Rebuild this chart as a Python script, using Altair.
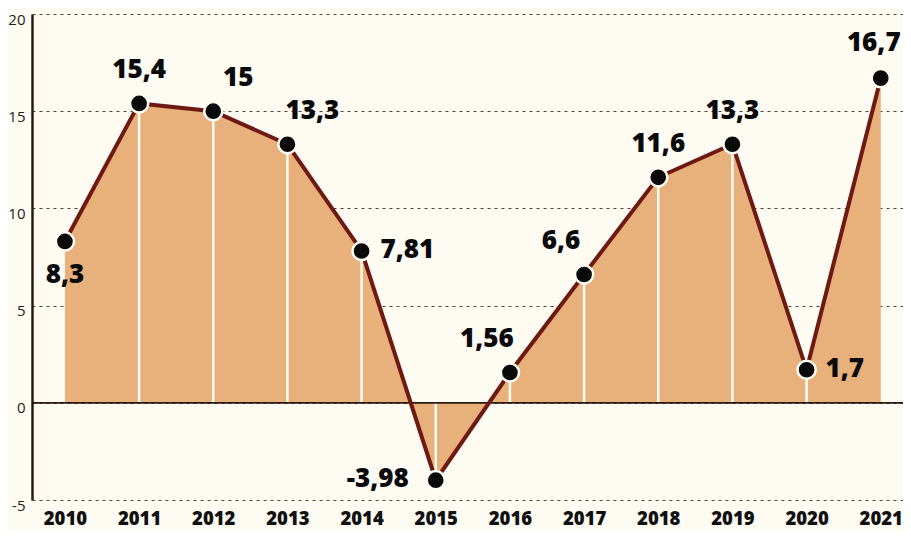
import altair as alt
import pandas as pd

years = [2010, 2011, 2012, 2013, 2014, 2015, 2016, 2017, 2018, 2019, 2020, 2021]
values = [8.3, 15.4, 15.0, 13.3, 7.81, -3.98, 1.56, 6.6, 11.6, 13.3, 1.7, 16.7]
labels = ["8,3", "15,4", "15", "13,3", "7,81", "-3,98", "1,56", "6,6", "11,6", "13,3", "1,7", "16,7"]
placement = ["below", "above", "above-right", "above-right", "right", "left",
             "above-left", "above-left", "above", "above", "right", "above-edge"]
y_ticks = [-5, 0, 5, 10, 15, 20]

df = pd.DataFrame({"year": years, "value": values, "label": labels, "place": placement})

W, H = 871, 486
FONT = "Open Sans"
BG = "#fdfbf2"

x = alt.X("year:Q", scale=alt.Scale(domain=[2009.556, 2021.3], nice=False, zero=False),
          axis=alt.Axis(values=years, format="d", title=None, grid=False, domain=False,
                        ticks=False, labelPadding=9, labelFontSize=18.5, labelFontWeight=800,
                        labelColor="#111111", labelFont=FONT, labelOverlap=False))
y = alt.Y("value:Q", scale=alt.Scale(domain=[-5, 20], nice=False, zero=False),
          axis=alt.Axis(values=y_ticks, title=None, grid=True, gridDash=[3, 4],
                        gridColor="#5a4030", gridWidth=1.1, domain=True, domainColor="#2a1a14",
                        domainWidth=2.5, ticks=False, labelPadding=7, labelFontSize=15,
                        labelColor="#222222", labelFont=FONT, labelBaseline="middle", labelOffset=5,
                        labelExpr="replace(datum.label, '\u2212', '-')"))

base = alt.Chart(df)

area = base.mark_area(color="#e8b07a", opacity=1, interpolate="linear").encode(
    x=x, y=y, y2=alt.datum(0))

rules = base.transform_filter("datum.year > 2010 && datum.year < 2021").mark_rule(
    color=BG, strokeWidth=2.5).encode(x="year:Q", y="value:Q", y2=alt.datum(0))

zero = alt.Chart(pd.DataFrame({"z": [0]})).mark_rule(color="#2a1a14", strokeWidth=1.8).encode(
    y="z:Q", x=alt.value(0), x2=alt.value(W))

line = base.mark_line(color="#6e1a12", strokeWidth=4).encode(x="year:Q", y="value:Q")

points = base.mark_point(filled=True, shape="circle", size=330, fill="#0a0a0a", opacity=1,
                         stroke="#fffdf5", strokeWidth=2.5).encode(x="year:Q", y="value:Q")

offsets = {
    "above": dict(dx=0, dy=-33, align="center"),
    "above-edge": dict(dx=-7, dy=-35, align="center"),
    "above-right": dict(dx=25, dy=-33, align="center"),
    "above-left": dict(dx=-23, dy=-33, align="center"),
    "right": dict(dx=19, dy=-1, align="left"),
    "left": dict(dx=-27, dy=-1, align="right"),
    "below": dict(dx=0, dy=34, align="center"),
}

texts = []
for key, o in offsets.items():
    texts.append(
        base.transform_filter(alt.datum.place == key).mark_text(
            font=FONT, fontSize=26, fontWeight=800, color="#0a0a0a", baseline="middle",
            align=o["align"], dx=o["dx"], dy=o["dy"]).encode(
            x="year:Q", y="value:Q", text="label:N")
    )

chart = alt.layer(area, rules, zero, line, points, *texts).properties(
    width=W, height=H,
    autosize=alt.AutoSizeParams(type="none"),
    padding={"left": 24, "top": 6, "right": 0, "bottom": 30},
).configure(background=BG).configure_view(stroke=None)

chart.save("out.html", embed_options={"renderer": "svg", "actions": False})
